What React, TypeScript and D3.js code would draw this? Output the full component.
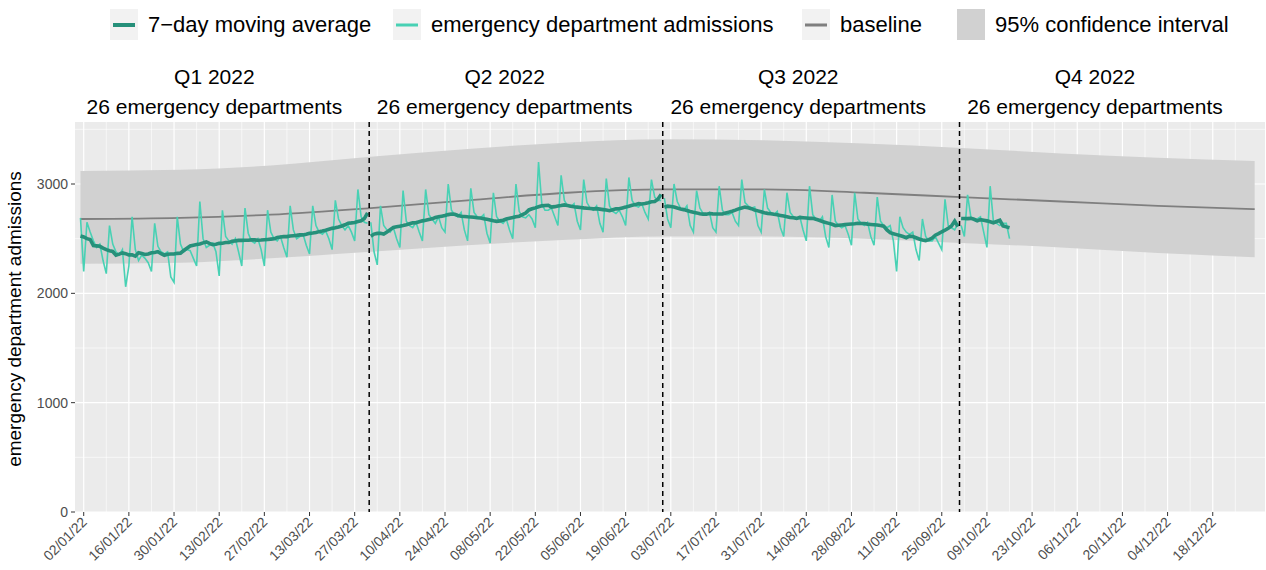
import React from "react";
import * as d3 from "d3";

const q1 = [2690,2200,2650,2560,2480,2420,2450, 2300,2180,2620,2450,2380,2350,2400, 2060,2250,2700,2400,2300,2350,2320, 2280,2200,2640,2430,2380,2360,2380, 2150,2100,2700,2450,2380,2400,2390, 2320,2250,2840,2500,2420,2440,2460, 2380,2160,2760,2520,2480,2450,2500, 2380,2250,2780,2550,2480,2460,2500, 2400,2250,2760,2560,2500,2480,2520, 2420,2330,2800,2580,2500,2520,2540, 2440,2360,2800,2620,2560,2540,2570, 2500,2400,2850,2680,2620,2580,2620, 2560,2480,2950,2700,2650,2640];
const q2 = [2650, 2380,2260,2800,2620,2580,2560,2600, 2500,2420,2940,2660,2620,2600,2650, 2560,2480,2950,2720,2680,2640,2700, 2600,2560,3000,2760,2720,2700,2740, 2580,2480,2960,2740,2700,2690,2720, 2550,2460,2920,2700,2660,2640,2680, 2580,2500,3000,2750,2700,2690,2720, 2680,2600,3200,2820,2760,2760,2780, 2700,2620,3080,2850,2800,2790,2820, 2660,2580,3040,2830,2780,2760,2800, 2640,2560,3050,2800,2750,2730,2760, 2700,2620,3060,2850,2800,2790,2820, 2740,2680,3040,2880,2850,2850];
const q3 = [2870, 2680,2600,3000,2840,2780,2760,2800, 2620,2560,2940,2780,2730,2720,2740, 2600,2560,2980,2760,2720,2720,2740, 2660,2620,3040,2830,2800,2780,2790, 2620,2560,2950,2780,2740,2720,2750, 2600,2520,2920,2740,2700,2680,2700, 2580,2480,2980,2720,2680,2660,2700, 2520,2420,2900,2660,2620,2600,2620, 2540,2440,2920,2680,2640,2620,2650, 2520,2440,2880,2660,2620,2600,2620, 2480,2200,2700,2600,2560,2540,2560, 2400,2300,2680,2520,2480,2480,2520, 2460,2400,2860,2620,2600,2580,2640];
const q4 = [2620,2520,2900,2700,2680,2680,2700, 2560,2420,2980,2660,2640,2620,2640, 2640,2500];
const quarterStarts = ["2022-01-01","2022-04-01","2022-07-01","2022-10-01"];
const quarterLabels = ["Q1 2022","Q2 2022","Q3 2022","Q4 2022"];
const baseDates = ["2022-01-01","2022-02-01","2022-03-01","2022-04-01","2022-05-01","2022-06-01","2022-07-01","2022-08-01","2022-09-01","2022-10-01","2022-11-01","2022-12-01","2022-12-31"];
const baseline = [2680,2690,2720,2780,2850,2920,2950,2950,2920,2880,2840,2800,2770];
const upper = [3120,3130,3170,3250,3320,3380,3410,3400,3370,3330,3280,3240,3210];
const lower = [2270,2280,2320,2380,2440,2490,2520,2520,2500,2460,2420,2370,2330];
const yTicks = [0,1000,2000,3000];

const W = 1266, H = 570;
const L = 75, R = 1265, T = 122, B = 512;
const day = 86400000;
const p = (s: string) => new Date(s + "T00:00:00Z");
const x = d3.scaleUtc().domain([new Date(p("2022-01-02").getTime() - 2.7 * day), new Date(p("2022-01-02").getTime() + 366.2 * day)]).range([L, R]);
const y = d3.scaleLinear().domain([0, 3000]).range([B, 184]);

const series = [q1, q2, q3, q4].map((vals, qi) => {
  const s = p(quarterStarts[qi]).getTime();
  const pts = vals.map((v, i) => ({ d: new Date(s + i * day), v }));
  const ma = pts.map((pt, i) => {
    const w = vals.slice(Math.max(0, i - 3), Math.min(vals.length, i + 4));
    return { d: pt.d, v: d3.mean(w)! };
  });
  return { pts, ma };
});

const majors: Date[] = [];
for (let t = p("2022-01-02").getTime(); t <= p("2022-12-31").getTime(); t += 14 * day) majors.push(new Date(t));
const minors = majors.map(m => new Date(m.getTime() + 7 * day)).filter(m => m <= x.domain()[1]);
const fmt = d3.utcFormat("%d/%m/%y");

export default function App() {
  const line = d3.line<{ d: Date; v: number }>().x(d => x(d.d)).y(d => y(d.v));
  const bd = baseDates.map(p);
  const area = d3.area<number>().x((_, i) => x(bd[i])).y0((_, i) => y(lower[i])).y1((_, i) => y(upper[i])).curve(d3.curveMonotoneX);
  const bl = d3.line<number>().x((_, i) => x(bd[i])).y(v => y(v)).curve(d3.curveMonotoneX);
  const font = "Liberation Sans, Arial, sans-serif";
  const legend = [
    { kind: "ma", x: 110, label: "7\u2212day moving average" },
    { kind: "d", x: 393, label: "emergency department admissions" },
    { kind: "b", x: 802, label: "baseline" },
    { kind: "ci", x: 957, label: "95% confidence interval" },
  ];
  return (
    <svg width={W} height={H} style={{ position: "absolute", left: 0, top: 0 }} fontFamily={font}>
      <rect width={W} height={H} fill="#fff" />
      <rect x={L} y={T} width={R - L} height={B - T} fill="#ebebeb" />
      {yTicks.slice(0, -1).map(t => <line key={"ym" + t} x1={L} x2={R} y1={y(t + 500)} y2={y(t + 500)} stroke="#fff" strokeWidth={0.6} />)}
      <line x1={L} x2={R} y1={y(3500)} y2={y(3500)} stroke="#fff" strokeWidth={0.6} />
      {minors.map((m, i) => <line key={"xm" + i} x1={x(m)} x2={x(m)} y1={T} y2={B} stroke="#fff" strokeWidth={0.6} />)}
      {yTicks.map(t => <line key={"y" + t} x1={L} x2={R} y1={y(t)} y2={y(t)} stroke="#fff" strokeWidth={1.2} />)}
      {majors.map((m, i) => <line key={"x" + i} x1={x(m)} x2={x(m)} y1={T} y2={B} stroke="#fff" strokeWidth={1.2} />)}
      <path d={area(upper)!} fill="#d1d1d1" />
      <path d={bl(baseline)!} fill="none" stroke="#7f7f7f" strokeWidth={1.8} />
      {series.map((s, i) => <path key={"d" + i} d={line(s.pts)!} fill="none" stroke="#48d1b4" strokeWidth={1.6} />)}
      {series.map((s, i) => <path key={"m" + i} d={line(s.ma)!} fill="none" stroke="#26907a" strokeWidth={3.6} />)}
      {quarterStarts.slice(1).map(q => {
        const xx = x(new Date(p(q).getTime() - 0.5 * day));
        return <line key={q} x1={xx} x2={xx} y1={T} y2={B} stroke="#000" strokeWidth={1.5} strokeDasharray="5,4" />;
      })}
      {quarterStarts.map((q, i) => {
        const xx = x(new Date(p(q).getTime() + 41.5 * day));
        return <g key={"a" + q} fontSize={21} textAnchor="middle" fill="#000">
          <text x={xx} y={84}>{quarterLabels[i]}</text>
          <text x={xx} y={114}>26 emergency departments</text>
        </g>;
      })}
      {yTicks.map(t => <g key={"yl" + t}>
        <line x1={L - 4} x2={L} y1={y(t)} y2={y(t)} stroke="#333" />
        <text x={L - 7} y={y(t) + 5} fontSize={14} textAnchor="end" fill="#4d4d4d">{t}</text>
      </g>)}
      {majors.map((m, i) => <g key={"xl" + i}>
        <line x1={x(m)} x2={x(m)} y1={B} y2={B + 4} stroke="#333" />
        <text transform={`translate(${x(m) + 4},${B + 11}) rotate(-45)`} fontSize={14} textAnchor="end" fill="#4d4d4d">{fmt(m)}</text>
      </g>)}
      <text transform={`translate(21,${(T + B) / 2 + 2}) rotate(-90)`} fontSize={19} textAnchor="middle">emergency department admissions</text>
      {legend.map(l => <g key={l.kind}>
        {l.kind === "ci" ? <rect x={l.x} y={9} width={28} height={31} fill="#d1d1d1" /> : <>
          <rect x={l.x} y={9} width={28} height={31} fill="#f2f2f2" />
          <line x1={l.x + 3} x2={l.x + 25} y1={25} y2={25} stroke={l.kind === "ma" ? "#26907a" : l.kind === "d" ? "#48d1b4" : "#7f7f7f"} strokeWidth={l.kind === "ma" ? 4 : 3} />
        </>}
        <text x={l.x + 38} y={32} fontSize={22}>{l.label}</text>
      </g>)}
    </svg>
  );
}
